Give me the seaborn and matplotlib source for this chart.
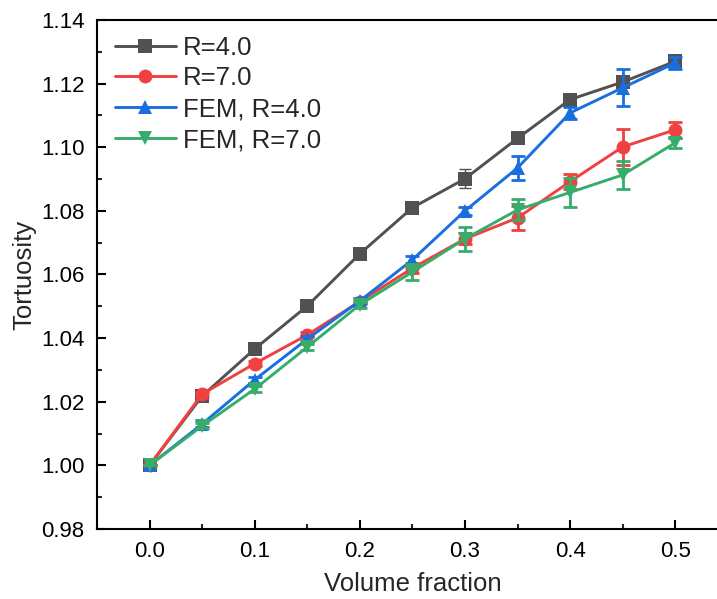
import numpy as np
import pandas as pd
import matplotlib
matplotlib.use("Agg")
import matplotlib.pyplot as plt
import seaborn as sns
from matplotlib.ticker import MultipleLocator, FormatStrFormatter

# ---- data ----
vf = [0.0, 0.05, 0.10, 0.15, 0.20, 0.25, 0.30, 0.35, 0.40, 0.45, 0.50]
r4 = [1.000, 1.0218, 1.0366, 1.0501, 1.0665, 1.0810, 1.0901, 1.1028, 1.1150, 1.1205, 1.1270]
r4_err = [0.0, 0.0005, 0.0004, 0.0004, 0.0004, 0.0004, 0.0030, 0.0005, 0.0005, 0.0012, 0.0008]
r7 = [1.000, 1.0224, 1.0320, 1.0410, 1.0515, 1.0620, 1.0712, 1.0778, 1.0892, 1.1001, 1.1055]
r7_err = [0.0, 0.0008, 0.0008, 0.0008, 0.0008, 0.0016, 0.0017, 0.0037, 0.0023, 0.0057, 0.0025]
f4 = [1.000, 1.0130, 1.0269, 1.0397, 1.0517, 1.0646, 1.0800, 1.0935, 1.1108, 1.1187, 1.1265]
f4_err = [0.0, 0.0010, 0.0010, 0.0010, 0.0008, 0.0012, 0.0012, 0.0038, 0.0018, 0.0058, 0.0018]
f7 = [1.000, 1.0124, 1.0240, 1.0372, 1.0505, 1.0608, 1.0712, 1.0803, 1.0858, 1.0913, 1.1014]
f7_err = [0.0, 0.0008, 0.0008, 0.0008, 0.0010, 0.0025, 0.0038, 0.0033, 0.0046, 0.0044, 0.0015]

labels = ["R=4.0", "R=7.0", "FEM, R=4.0", "FEM, R=7.0"]
colors = ["#515151", "#F14040", "#1A6FDF", "#37AD6B"]
markers = ["s", "o", "^", "v"]

series = [r4, r7, f4, f7]
errs = [r4_err, r7_err, f4_err, f7_err]

df = pd.concat([pd.DataFrame({"vf": vf, "tort": s, "err": e, "label": l})
                for s, e, l in zip(series, errs, labels)], ignore_index=True)

sns.set_style("ticks")
plt.rcParams["font.family"] = ["Liberation Sans", "DejaVu Sans"]

fig = plt.figure(figsize=(7.17, 5.99), dpi=100)
ax = fig.add_axes([0.1353, 0.1169, 0.8797, 0.8497])

for i, lab in enumerate(labels):
    sub = df[df["label"] == lab]
    z = 3 + i
    if i == 0:
        ax.errorbar(sub["vf"], sub["tort"], yerr=sub["err"], fmt="none",
                    ecolor=colors[i], elinewidth=1.0, capsize=4.5, capthick=1.0, zorder=z)
    else:
        ax.errorbar(sub["vf"], sub["tort"], yerr=sub["err"], fmt="none",
                    ecolor=colors[i], elinewidth=2.0, capsize=5, capthick=2.0, zorder=z)
    sns.lineplot(data=sub, x="vf", y="tort", ax=ax, color=colors[i], marker=markers[i],
                 markersize=10, markeredgewidth=0, linewidth=2.1, label=lab,
                 errorbar=None, zorder=z)

ax.set_xlim(-0.05, 0.55)
ax.set_ylim(0.98, 1.14)
ax.xaxis.set_major_locator(MultipleLocator(0.1))
ax.xaxis.set_minor_locator(MultipleLocator(0.05))
ax.yaxis.set_major_locator(MultipleLocator(0.02))
ax.yaxis.set_minor_locator(MultipleLocator(0.01))
ax.xaxis.set_major_formatter(FormatStrFormatter("%.1f"))
ax.yaxis.set_major_formatter(FormatStrFormatter("%.2f"))

ax.tick_params(axis="both", which="major", direction="in", length=6.5, width=1.5,
               labelsize=16, color="black", labelcolor="black", pad=9)
ax.tick_params(axis="both", which="minor", direction="in", length=3.5, width=1.5)
ax.tick_params(top=False, right=False, which="both")

for sp in ["left", "bottom", "top", "right"]:
    ax.spines[sp].set_linewidth(1.5)
    ax.spines[sp].set_color("black")

ax.set_xlabel("Volume fraction", fontsize=18.5, labelpad=7)
ax.set_ylabel("Tortuosity", fontsize=18.5, labelpad=3)

leg = ax.legend(loc="upper left", bbox_to_anchor=(-0.012, 1.02), frameon=False,
                fontsize=18.5, handlelength=2.35, handletextpad=0.3,
                labelspacing=0.27, borderaxespad=0.6, markerscale=1.0)

fig.savefig("out.png", dpi=100)
